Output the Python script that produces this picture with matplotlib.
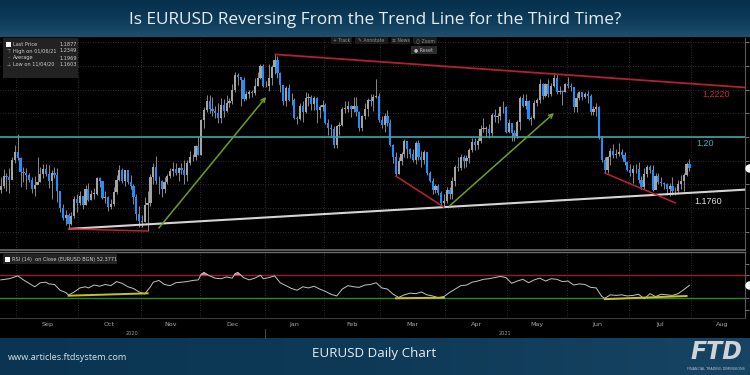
import numpy as np
import pandas as pd
import matplotlib
matplotlib.use("Agg")
import matplotlib.pyplot as plt
from matplotlib.colors import LinearSegmentedColormap
from matplotlib.patches import Rectangle
import matplotlib.transforms as mtransforms

# ---------------- data ----------------
start_date = "2020-08-24"
end_date = "2021-07-30"
axis_end_date = "2021-08-31"
first_open = 1.1775

close = [
    1.1793, 1.1834, 1.1830, 1.1820, 1.1903, 1.1938,
    1.1913, 1.1853, 1.1850, 1.1838, 1.1818, 1.1780, 1.1798, 1.1812, 1.1845, 1.1863, 1.1845, 1.1815, 1.1848, 1.1840, 1.1770, 1.1700, 1.1658, 1.1670, 1.1632, 1.1667, 1.1740, 1.1720,
    1.1750, 1.1715, 1.1780, 1.1735, 1.1760, 1.1760, 1.1825, 1.1815, 1.1744, 1.1746, 1.1705, 1.1718, 1.1768, 1.1820, 1.1860, 1.1815, 1.1860, 1.1812, 1.1795, 1.1746, 1.1675, 1.1646,
    1.1641, 1.1715, 1.1723, 1.1830, 1.1875, 1.1813, 1.1813, 1.1780, 1.1810, 1.1835, 1.1855, 1.1863, 1.1850, 1.1870, 1.1860, 1.1840, 1.1890, 1.1915, 1.1915, 1.1960, 1.1925,
    1.2070, 1.2113, 1.2150, 1.2120, 1.2110, 1.2100, 1.2080, 1.2135, 1.2110, 1.2145, 1.2150, 1.2200, 1.2260, 1.2255, 1.2240, 1.2160, 1.2180, 1.2190, 1.2185, 1.2215, 1.2250, 1.2300, 1.2215,
    1.2217, 1.2250, 1.2297, 1.2325, 1.2270, 1.2220, 1.2150, 1.2208, 1.2155, 1.2155, 1.2080, 1.2075, 1.2130, 1.2105, 1.2165, 1.2170, 1.2140, 1.2165, 1.2115, 1.2125, 1.2135,
    1.2060, 1.2040, 1.2035, 1.1965, 1.2045, 1.2050, 1.2120, 1.2120, 1.2130, 1.2120, 1.2130, 1.2105, 1.2040, 1.2090, 1.2120, 1.2155, 1.2150, 1.2170, 1.2175, 1.2070,
    1.2050, 1.2090, 1.2060, 1.1965, 1.1915, 1.1845, 1.1900, 1.1930, 1.1985, 1.1950, 1.1930, 1.1905, 1.1975, 1.1915, 1.1905, 1.1935, 1.1850, 1.1815, 1.1775, 1.1795, 1.1765, 1.1720, 1.1730,
    1.1775, 1.1760, 1.1815, 1.1875, 1.1870, 1.1915, 1.1900, 1.1910, 1.1945, 1.1980, 1.1965, 1.1985, 1.2035, 1.2035, 1.2035, 1.2015, 1.2095, 1.2085, 1.2090, 1.2125, 1.2125, 1.2020,
    1.2060, 1.2015, 1.2005, 1.2065, 1.2165, 1.2130, 1.2150, 1.2075, 1.2080, 1.2145, 1.2155, 1.2225, 1.2175, 1.2225, 1.2180, 1.2215, 1.2250, 1.2190, 1.2195, 1.2190, 1.2225,
    1.2215, 1.2210, 1.2125, 1.2165, 1.2190, 1.2170, 1.2180, 1.2175, 1.2105, 1.2120, 1.2125, 1.1995, 1.1905, 1.1860, 1.1915, 1.1940, 1.1925, 1.1930, 1.1935, 1.1925, 1.1895, 1.1860,
    1.1850, 1.1865, 1.1865, 1.1820, 1.1790, 1.1845, 1.1875, 1.1860, 1.1775, 1.1835, 1.1810, 1.1805, 1.1800, 1.1780, 1.1795, 1.1770, 1.1770, 1.1800, 1.1815, 1.1840, 1.1885, 1.1870,
]

high = [
    1.1832, 1.1867, 1.1850, 1.1868, 1.1916, 1.1965,
    1.2011, 1.1915, 1.1875, 1.1870, 1.1850, 1.1833, 1.1835, 1.1917, 1.1873, 1.1888, 1.1887, 1.1882, 1.1860, 1.1872, 1.1870, 1.1773, 1.1718, 1.1690, 1.1680, 1.1685, 1.1750, 1.1760,
    1.1770, 1.1745, 1.1797, 1.1805, 1.1775, 1.1783, 1.1832, 1.1830, 1.1812, 1.1770, 1.1752, 1.1740, 1.1790, 1.1840, 1.1880, 1.1870, 1.1860, 1.1860, 1.1838, 1.1800, 1.1760, 1.1710,
    1.1669, 1.1745, 1.1770, 1.1845, 1.1891, 1.1920, 1.1837, 1.1820, 1.1830, 1.1845, 1.1870, 1.1894, 1.1890, 1.1875, 1.1890, 1.1905, 1.1905, 1.1941, 1.1930, 1.1965, 1.2000,
    1.2077, 1.2125, 1.2176, 1.2178, 1.2168, 1.2130, 1.2145, 1.2165, 1.2160, 1.2177, 1.2165, 1.2222, 1.2273, 1.2270, 1.2250, 1.2255, 1.2195, 1.2200, 1.2200, 1.2250, 1.2275, 1.2310, 1.2310,
    1.2235, 1.2310, 1.2305, 1.2349, 1.2340, 1.2275, 1.2210, 1.2215, 1.2222, 1.2185, 1.2165, 1.2090, 1.2145, 1.2150, 1.2190, 1.2185, 1.2177, 1.2175, 1.2170, 1.2135, 1.2155,
    1.2145, 1.2075, 1.2055, 1.2045, 1.2050, 1.2062, 1.2125, 1.2150, 1.2150, 1.2135, 1.2170, 1.2170, 1.2110, 1.2095, 1.2145, 1.2165, 1.2180, 1.2180, 1.2243, 1.2185,
    1.2090, 1.2100, 1.2113, 1.2075, 1.1970, 1.1935, 1.1915, 1.1935, 1.1990, 1.1985, 1.1955, 1.1950, 1.1985, 1.1989, 1.1940, 1.1945, 1.1935, 1.1855, 1.1825, 1.1800, 1.1800, 1.1770, 1.1760,
    1.1790, 1.1790, 1.1830, 1.1880, 1.1915, 1.1928, 1.1925, 1.1925, 1.1955, 1.1995, 1.1995, 1.1995, 1.2050, 1.2079, 1.2045, 1.2055, 1.2100, 1.2117, 1.2100, 1.2130, 1.2150, 1.2130,
    1.2075, 1.2060, 1.2030, 1.2070, 1.2172, 1.2180, 1.2182, 1.2155, 1.2090, 1.2155, 1.2165, 1.2245, 1.2230, 1.2230, 1.2245, 1.2230, 1.2266, 1.2265, 1.2215, 1.2200, 1.2230,
    1.2254, 1.2230, 1.2210, 1.2185, 1.2195, 1.2185, 1.2190, 1.2195, 1.2180, 1.2130, 1.2145, 1.2130, 1.2005, 1.1915, 1.1920, 1.1955, 1.1970, 1.1950, 1.1975, 1.1950, 1.1935, 1.1900,
    1.1885, 1.1880, 1.1885, 1.1895, 1.1835, 1.1868, 1.1880, 1.1880, 1.1880, 1.1850, 1.1850, 1.1830, 1.1810, 1.1805, 1.1805, 1.1830, 1.1790, 1.1820, 1.1840, 1.1850, 1.1895, 1.1908,
]

low = [
    1.1765, 1.1785, 1.1770, 1.1762, 1.1823, 1.1890,
    1.1903, 1.1789, 1.1810, 1.1780, 1.1810, 1.1765, 1.1753, 1.1800, 1.1810, 1.1826, 1.1835, 1.1786, 1.1737, 1.1825, 1.1727, 1.1685, 1.1650, 1.1627, 1.1612, 1.1630, 1.1660, 1.1685,
    1.1715, 1.1696, 1.1713, 1.1730, 1.1735, 1.1737, 1.1755, 1.1790, 1.1737, 1.1721, 1.1688, 1.1694, 1.1710, 1.1760, 1.1815, 1.1805, 1.1795, 1.1800, 1.1780, 1.1718, 1.1650, 1.1622,
    1.1622, 1.1643, 1.1603, 1.1710, 1.1800, 1.1800, 1.1760, 1.1745, 1.1765, 1.1800, 1.1825, 1.1836, 1.1840, 1.1815, 1.1845, 1.1800, 1.1815, 1.1880, 1.1900, 1.1905, 1.1925,
    1.1925, 1.2040, 1.2105, 1.2100, 1.2090, 1.2080, 1.2060, 1.2060, 1.2085, 1.2105, 1.2125, 1.2140, 1.2190, 1.2220, 1.2130, 1.2150, 1.2155, 1.2165, 1.2170, 1.2178, 1.2215, 1.2245, 1.2210,
    1.2210, 1.2195, 1.2220, 1.2265, 1.2250, 1.2190, 1.2135, 1.2132, 1.2150, 1.2135, 1.2075, 1.2055, 1.2070, 1.2065, 1.2100, 1.2130, 1.2115, 1.2115, 1.2058, 1.2080, 1.2110,
    1.2055, 1.2010, 1.2005, 1.1955, 1.1952, 1.2010, 1.2045, 1.2100, 1.2105, 1.2085, 1.2105, 1.2090, 1.2025, 1.2025, 1.2075, 1.2090, 1.2130, 1.2110, 1.2165, 1.2065,
    1.2040, 1.2020, 1.2045, 1.1962, 1.1892, 1.1835, 1.1845, 1.1880, 1.1915, 1.1910, 1.1910, 1.1895, 1.1885, 1.1905, 1.1875, 1.1885, 1.1840, 1.1810, 1.1760, 1.1762, 1.1755, 1.1712, 1.1704,
    1.1720, 1.1740, 1.1740, 1.1795, 1.1855, 1.1860, 1.1870, 1.1875, 1.1890, 1.1935, 1.1945, 1.1950, 1.1975, 1.2020, 1.2000, 1.1995, 1.2005, 1.2065, 1.2060, 1.2070, 1.2100, 1.2015,
    1.2015, 1.1985, 1.1985, 1.1995, 1.2030, 1.2125, 1.2120, 1.2070, 1.2050, 1.2075, 1.2130, 1.2145, 1.2160, 1.2170, 1.2170, 1.2175, 1.2210, 1.2180, 1.2180, 1.2135, 1.2190,
    1.2205, 1.2195, 1.2105, 1.2105, 1.2155, 1.2155, 1.2165, 1.2145, 1.2095, 1.2095, 1.2090, 1.1990, 1.1895, 1.1848, 1.1850, 1.1880, 1.1910, 1.1910, 1.1920, 1.1910, 1.1880, 1.1855,
    1.1835, 1.1807, 1.1850, 1.1806, 1.1782, 1.1780, 1.1830, 1.1850, 1.1772, 1.1780, 1.1800, 1.1795, 1.1780, 1.1755, 1.1752, 1.1755, 1.1755, 1.1760, 1.1780, 1.1770, 1.1835, 1.1855,
]

# RSI(14): trading-day index -> value
rsi_day = [0, 3, 6, 8, 10, 12, 14, 16, 17, 19, 21, 23, 24, 26, 28, 30, 31, 33, 35, 37, 39, 41, 43, 45, 47, 49, 51,
           53, 54, 56, 58, 60, 62, 64, 66, 68, 70, 71, 72, 74, 76, 78, 80, 82, 83, 84, 86, 88, 90, 92, 93, 95, 97,
           99, 101, 103, 105, 107, 109, 111, 113, 115, 117, 119, 121, 123, 125, 127, 129, 131, 133, 135, 137, 139,
           141, 143, 145, 147, 149, 151, 153, 155, 157, 159, 161, 163, 165, 167, 169, 171, 173, 175, 177, 179, 181,
           183, 185, 187, 189, 191, 193, 195, 197, 199, 201, 203, 205, 207, 209, 211, 212, 213, 214, 216, 218, 220,
           222, 224, 226, 228, 230, 232, 234, 236, 238, 240, 242, 244]
rsi_val = [62, 64, 69, 62, 56, 50, 57, 58, 55, 54, 44, 40, 35.5, 41, 48, 50, 48, 53, 51, 54, 52, 59, 56, 50, 47, 41, 37.5,
           50, 58, 61, 54, 52, 57, 58, 59, 61, 62, 72, 75, 69, 65, 64, 67, 65, 73, 75, 66, 62, 65, 70, 64, 66, 69,
           57, 52, 47, 44, 50, 48, 51, 46, 42, 37, 34, 46, 52, 50, 49, 53, 54, 57, 48, 46, 37,
           31.5, 36, 39, 38, 41, 36, 34, 31, 33, 40, 46, 52, 53, 58, 60, 63, 64, 66, 68, 66, 56,
           60, 63, 57, 62, 65, 60, 64, 63, 59, 60, 53, 55, 54, 49, 48, 40, 33, 30, 36, 35, 36,
           34, 35, 37, 29, 38, 33, 37, 36, 35, 38, 45, 52.4]
rsi_upper, rsi_lower = 70, 30

level_price = 1.20
trend_hi_dates = ["2021-01-06", "2021-05-25"]
trend_hi_prices = [1.2349, 1.2266]
trend_lo_dates = ["2020-09-25", "2021-03-31"]
trend_lo_prices = [1.1612, 1.1704]
red_seg_dates = [["2020-09-25", "2020-11-04"], ["2021-03-08", "2021-03-31"], ["2021-06-18", "2021-07-23"]]
red_seg_prices = [[1.1612, 1.1603], [1.1835, 1.1704], [1.1848, 1.1722]]
arrow_dates = [["2020-11-10", "2021-01-01"], ["2021-04-02", "2021-05-25"]]
arrow_prices = [[1.1616, 1.2169], [1.1709, 1.2101]]
rsi_div_dates = [["2020-09-25", "2020-11-04"], ["2021-03-08", "2021-03-31"], ["2021-06-18", "2021-07-29"]]
rsi_div_vals = [[34.5, 38.6], [30.0, 31.0], [28.5, 34.0]]

legend_rows = [("Last Price", "1.1877"), ("High on 01/06/21", "1.2349"),
               ("Average", "1.1969"), ("Low on 11/04/20", "1.1603")]
rsi_label = "RSI (14)  on Close (EURUSD BGN) 52.3771"
title = "Is EURUSD Reversing From the Trend Line for the Third Time?"
footer_title = "EURUSD Daily Chart"
footer_url = "www.articles.ftdsystem.com"

assert len(close) == len(high) == len(low)

# ---------------- figure ----------------
W, H = 750, 375
fig = plt.figure(figsize=(7.5, 3.75), dpi=100, facecolor="black")


def fr(x0, y0, x1, y1):
    return [x0 / W, 1 - y1 / H, (x1 - x0) / W, (y1 - y0) / H]


def fx(x):
    return x / W


def fy(y):
    return 1 - y / H


dates = pd.bdate_range(start_date, end_date)
ext = pd.bdate_range(start_date, axis_end_date)
assert len(dates) == len(close)
pos = {d.strftime("%Y-%m-%d"): i for i, d in enumerate(ext)}
n_ext = len(ext)
xmin, xmax = -0.3, n_ext - 3.3

# header
hax = fig.add_axes(fr(0, 0, 750, 37))
hax.axis("off")
hax.imshow(np.linspace(0, 1, 60).reshape(-1, 1), aspect="auto",
           cmap=LinearSegmentedColormap.from_list("h", ["#06304c", "#0c3a58", "#1f4f6d"]),
           extent=[0, 1, 0, 1])
hax.set_xlim(0, 1); hax.set_ylim(0, 1)
hax.text(0.5, 0.47, title, color="#e6edf2", fontsize=12.4, family="Open Sans",
         ha="center", va="center")

# footer
fax = fig.add_axes(fr(0, 338, 750, 375))
fax.axis("off")
fax.imshow(np.linspace(0, 1, 100).reshape(1, -1), aspect="auto",
           cmap=LinearSegmentedColormap.from_list("f", ["#0a3452", "#0e3a58", "#174462"]),
           extent=[0, 1, 0, 1])
fax.set_xlim(0, 1); fax.set_ylim(0, 1)
fig.text(fx(374), fy(354), footer_title, color="#e6edf2", fontsize=9.6, family="Open Sans",
         ha="center", va="center")
fig.text(fx(8), fy(357), footer_url, color="#d8e2ea", fontsize=6.6, family="Open Sans",
         ha="left", va="center")
fig.text(fx(716), fy(352), "FTD", color="#cfd4d8", fontsize=17, fontweight="bold",
         fontstyle="italic", family="DejaVu Sans", ha="center", va="center")
fig.text(fx(716), fy(369), "FINANCIAL TRADING DIMENSIONS", color="#b8c4cc", fontsize=2.4,
         ha="center", va="center")

# ---------------- price panel ----------------
ax = fig.add_axes(fr(0, 38, 745, 250), facecolor="black")
ax.set_xlim(xmin, xmax)
ax.set_ylim(1.1523, 1.2418)

grid_kw = dict(color="#3c3c3c", lw=0.6, ls=(0, (1, 2)))
for p in np.arange(1.16, 1.245, 0.01):
    ax.axhline(p, **grid_kw, zorder=0)

month_starts = [i for i in range(1, n_ext) if ext[i].month != ext[i - 1].month]
for ms in month_starts:
    ax.axvline(ms - 0.5, **grid_kw, zorder=0)

c = np.array(close); h = np.array(high); l = np.array(low)
o = np.concatenate([[first_open], c[:-1]])
x = np.arange(len(c))
up = c >= o
ax.vlines(x, l, h, color="#8a8a8a", lw=0.7, zorder=2)
body = np.maximum(np.abs(c - o), 0.0002)
ax.bar(x[up], body[up], bottom=np.minimum(o, c)[up], width=0.78, color="#a4a4a4", lw=0, zorder=3)
ax.bar(x[~up], body[~up], bottom=np.minimum(o, c)[~up], width=0.78, color="#1e8fff", lw=0, zorder=3)

# 1.20 level
ax.axhline(level_price, color="#3aa9a8", lw=1.2, zorder=4)


def line_to_edge(d, p):
    x0, x1 = pos[d[0]], pos[d[1]]
    slope = (p[1] - p[0]) / (x1 - x0)
    return [x0, xmax], [p[0], p[0] + slope * (xmax - x0)], slope


tx, ty, s_hi = line_to_edge(trend_hi_dates, trend_hi_prices)
ax.plot(tx, ty, color="#b3202f", lw=1.3, zorder=5, solid_capstyle="butt")
lx, ly, s_lo = line_to_edge(trend_lo_dates, trend_lo_prices)
ax.plot(lx, ly, color="#d4d4d4", lw=1.5, zorder=5, solid_capstyle="butt")

for d, p in zip(red_seg_dates, red_seg_prices):
    ax.plot([pos[d[0]], pos[d[1]]], p, color="#c0222f", lw=1.1, zorder=5)
for d, p in zip(arrow_dates, arrow_prices):
    ax.annotate("", xy=(pos[d[1]], p[1]), xytext=(pos[d[0]], p[0]),
                arrowprops=dict(arrowstyle="->", color="#6f9f22", lw=1.1,
                                mutation_scale=7, shrinkA=0, shrinkB=0), zorder=6)

# level labels
lab_x1 = 253.5
ax.annotate("1.2220", xy=(lab_x1, trend_hi_prices[0] + s_hi * (lab_x1 - pos[trend_hi_dates[0]])),
            xytext=(0, -6.5), textcoords="offset points", color="#c8283a", fontsize=6.5,
            family="Liberation Sans", ha="center", va="center")
ax.annotate("1.20", xy=(249.6, level_price), xytext=(0, -4.6), textcoords="offset points",
            color="#3fb3b2", fontsize=6.5, family="Liberation Sans", ha="center", va="center")
lab_x3 = 250.6
ax.annotate("1.1760", xy=(lab_x3, trend_lo_prices[0] + s_lo * (lab_x3 - pos[trend_lo_dates[0]])),
            xytext=(0, -6.8), textcoords="offset points", color="#e2e2e2", fontsize=6.5,
            family="Liberation Sans", ha="center", va="center")

for sp in ["top", "left"]:
    ax.spines[sp].set_visible(False)
ax.spines["right"].set_color("#5a5a5a")
ax.spines["bottom"].set_color("#6a6a6a")
ax.spines["bottom"].set_linewidth(1.2)
ax.set_xticks([])
ax.set_yticks(np.arange(1.16, 1.245, 0.01))
ax.yaxis.tick_right()
ax.tick_params(axis="y", direction="out", length=3, color="#8a8a8a", labelright=False, width=0.6)

# last price marker
trans = mtransforms.blended_transform_factory(ax.transAxes, ax.transData)
ax.plot([1.0 + 3.5 / 745], [close[-1]], marker="o", ms=5, color="white", transform=trans,
        clip_on=False, zorder=10)

# legend box
fig.patches.append(Rectangle((fx(3), fy(78)), (78 - 3) / W, 40 / H, transform=fig.transFigure,
                             facecolor="#262626", edgecolor="none", alpha=0.92, zorder=20))
row_y = [44, 51, 58, 64.5]
icons = ["", "\u22a4", "\u2013", "\u22a5"]
for (name, val), yy, ic in zip(legend_rows, row_y, icons):
    fig.text(fx(13), fy(yy), name, color="#cfcfcf", fontsize=3.6, va="center", ha="left", zorder=21)
    fig.text(fx(60), fy(yy), val, color="#cfcfcf", fontsize=3.6, va="center", ha="left", zorder=21)
    if ic:
        fig.text(fx(8.5), fy(yy), ic, color="#9a9a9a", fontsize=3.6, va="center", ha="center", zorder=21)
fig.patches.append(Rectangle((fx(6), fy(47)), 5 / W, 5 / H, transform=fig.transFigure,
                             facecolor="white", edgecolor="none", zorder=21))

# toolbar
tools = [("+ Track", 331, 352), ("\u270e Annotate", 355, 388), ("\u2261 News", 391, 410),
         ("\u25cb Zoom", 413, 437)]
for name, x0, x1 in tools:
    fig.patches.append(Rectangle((fx(x0), fy(44)), (x1 - x0) / W, 7 / H, transform=fig.transFigure,
                                 facecolor="#1c1c1c", edgecolor="none", zorder=20))
    fig.text(fx((x0 + x1) / 2), fy(40.5), name, color="#8e8e8e", fontsize=3.3,
             ha="center", va="center", zorder=21, family="DejaVu Sans")
fig.patches.append(Rectangle((fx(411), fy(54)), 26 / W, 8 / H, transform=fig.transFigure,
                             facecolor="#2a2a2a", edgecolor="none", zorder=20))
fig.text(fx(424), fy(50), "\u25cf Reset", color="#bdbdbd", fontsize=3.4, ha="center",
         va="center", zorder=21)

# ---------------- RSI panel ----------------
rax = fig.add_axes(fr(0, 252, 745, 318), facecolor="black")
rax.set_xlim(xmin, xmax)
rax.set_ylim(-4.3, 110.5)
for ms in month_starts:
    rax.axvline(ms - 0.5, **grid_kw, zorder=0)
rax.axhline(rsi_upper, color="#9e1c26", lw=1.0, zorder=2)
rax.axhline(rsi_lower, color="#2c8a26", lw=1.0, zorder=2)
rd = np.array(rsi_day); rv = np.array(rsi_val, dtype=float)
rax.fill_between(rd, rsi_upper, rv, where=rv > rsi_upper, interpolate=True,
                 color="#d27c86", lw=0, zorder=3)
rax.plot(rd, rv, color="#c4c4c4", lw=0.7, zorder=4)
for d, v in zip(rsi_div_dates, rsi_div_vals):
    rax.plot([pos[d[0]], pos[d[1]]], v, color="#c9c21e", lw=1.4, zorder=5)

trans_r = mtransforms.blended_transform_factory(rax.transAxes, rax.transData)
rax.plot([1.0 + 3.5 / 745], [rsi_val[-1]], marker="o", ms=5, color="white", transform=trans_r,
         clip_on=False, zorder=10)

for sp in ["left"]:
    rax.spines[sp].set_visible(False)
rax.spines["top"].set_color("#6a6a6a")
rax.spines["top"].set_linewidth(1.0)
rax.spines["right"].set_color("#5a5a5a")
rax.spines["bottom"].set_color("#3a3a3a")
rax.set_yticks([10, 30, 50, 70, 90])
rax.yaxis.tick_right()
rax.tick_params(axis="y", direction="out", length=3, color="#8a8a8a", labelright=False, width=0.6)

# month labels
all_starts = [0] + month_starts + [n_ext]
centers, names = [], []
for a, b in zip(all_starts[:-1], all_starts[1:]):
    if ext[a].day > 20:
        continue
    centers.append((a + b - 1) / 2)
    names.append(ext[a].strftime("%b"))
rax.set_xticks(centers)
rax.set_xticklabels(names, color="#a8a8a8", fontsize=4.6)
rax.tick_params(axis="x", length=0, pad=3.2)

# year labels
tr_yr = mtransforms.blended_transform_factory(rax.transData, rax.transAxes)
jan_idx = pos["2021-01-01"]
rax.text((xmin + jan_idx - 0.5) / 2, -0.235, "2020", color="#9a9a9a", fontsize=3.6,
         ha="center", va="center", transform=tr_yr)
rax.text((jan_idx - 0.5 + xmax) / 2, -0.235, "2021", color="#9a9a9a", fontsize=3.6,
         ha="center", va="center", transform=tr_yr)
rax.plot([jan_idx - 0.5, jan_idx - 0.5], [-0.16, -0.31], color="#555555", lw=0.6,
         transform=tr_yr, clip_on=False)

# RSI label
fig.patches.append(Rectangle((fx(3), fy(264)), 114 / W, 10 / H, transform=fig.transFigure,
                             facecolor="#262626", edgecolor="none", alpha=0.95, zorder=20))
fig.patches.append(Rectangle((fx(5), fy(262)), 5 / W, 5 / H, transform=fig.transFigure,
                             facecolor="white", edgecolor="none", zorder=21))
fig.text(fx(12), fy(259), rsi_label, color="#cfcfcf", fontsize=3.6, va="center", ha="left", zorder=21)

fig.savefig("out.png", dpi=100, facecolor="black")
